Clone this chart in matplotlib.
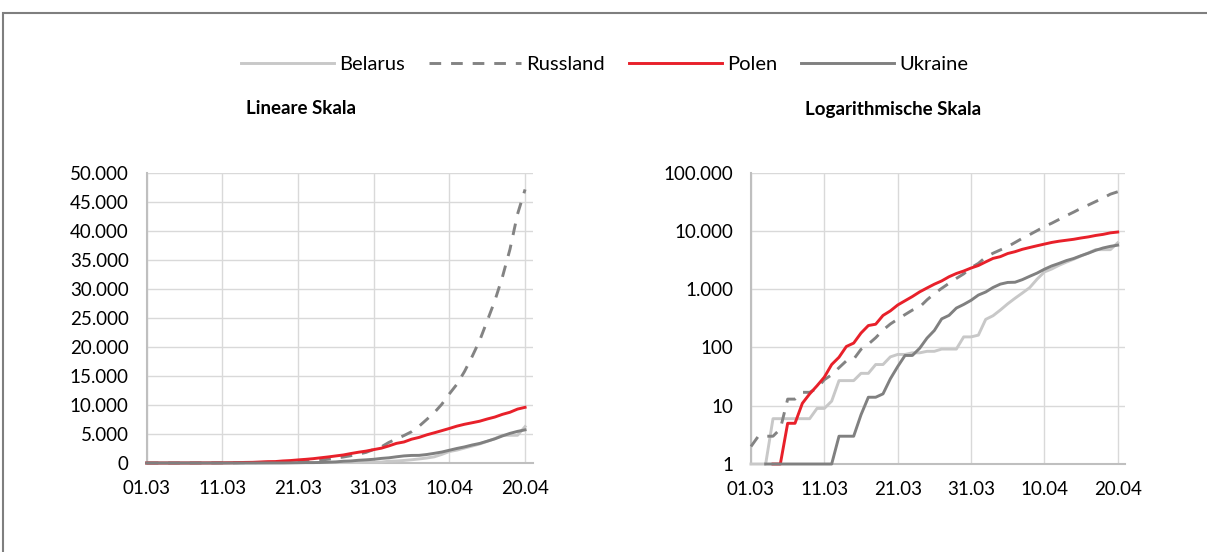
import numpy as np
import matplotlib
matplotlib.use("Agg")
import matplotlib.pyplot as plt
from matplotlib.ticker import FixedLocator, FuncFormatter, NullLocator
from matplotlib.patches import Rectangle

plt.rcParams['font.family'] = ['Lato', 'DejaVu Sans']

# Tage 01.03 - 20.04
tick_days = [0, 10, 20, 30, 40, 50]
tick_labels = ['01.03', '11.03', '21.03', '31.03', '10.04', '20.04']

belarus = [1, 1, 1, 6, 6, 6, 6, 6, 6, 9, 9, 12, 27, 27, 27, 36, 36, 51, 51, 69,
           76, 76, 81, 81, 86, 86, 94, 94, 94, 152, 152,
           163, 304, 351, 440, 562, 700, 861, 1066, 1486, 1981, 2226, 2578, 2919,
           3281, 3728, 4204, 4779, 4779, 4779, 6264]
russland = [2, 3, 3, 3, 4, 13, 13, 17, 17, 20, 28, 34, 45, 59, 63, 93, 114, 147,
            199, 253, 306, 367, 438, 495, 658, 840, 1036, 1264, 1534, 1836, 2337,
            2777, 3548, 4149, 4731, 5389, 6343, 7497, 8672, 10131, 11917, 13584,
            15770, 18328, 21102, 24490, 27938, 32008, 36793, 42853, 47121]
polen = [0, 0, 0, 1, 1, 5, 5, 11, 16, 22, 31, 51, 68, 104, 119, 177, 238, 251,
         355, 425, 536, 634, 749, 901, 1051, 1221, 1389, 1638, 1862, 2055, 2311,
         2554, 2946, 3383, 3627, 4102, 4413, 4848, 5205, 5575, 5955, 6356, 6674,
         6934, 7202, 7582, 7918, 8379, 8742, 9287, 9593]
ukraine = [0, 0, 1, 1, 1, 1, 1, 1, 1, 1, 1, 1, 3, 3, 3, 7, 14, 14, 16, 29, 47,
           73, 73, 97, 145, 196, 310, 356, 475, 548, 645,
           794, 897, 1072, 1225, 1308, 1319, 1462, 1668, 1892, 2203, 2511, 2777,
           3102, 3372, 3764, 4161, 4662, 5106, 5449, 5710]

series = [
    ('Belarus', belarus, dict(color='#c8c8c8', ls='-')),
    ('Russland', russland, dict(color='#838383', ls=(0, (4, 3.4)))),
    ('Polen', polen, dict(color='#e8202a', ls='-')),
    ('Ukraine', ukraine, dict(color='#808080', ls='-')),
]

days = np.arange(len(belarus))


def de_fmt(v, pos):
    return f'{int(round(v)):,}'.replace(',', '.')


fig = plt.figure(figsize=(12.07, 5.52), dpi=100)
ax1 = fig.add_axes([0.1215, 0.1612, 0.3198, 0.5259])
ax2 = fig.add_axes([0.6222, 0.1594, 0.3099, 0.5277])

handles = []
for name, vals, st in series:
    v = np.array(vals, dtype=float)
    h, = ax1.plot(days, v, lw=2.1, label=name, zorder=3, clip_on=False, **st)
    vlog = np.where(v >= 1, v, np.nan)
    ax2.plot(days, vlog, lw=2.1, zorder=3, clip_on=False, **st)
    handles.append(h)

ax1.set_ylim(0, 50000)
ax1.yaxis.set_major_locator(FixedLocator(np.arange(0, 50001, 5000)))

ax2.set_yscale('log')
ax2.set_ylim(1, 100000)
ax2.yaxis.set_major_locator(FixedLocator([1, 10, 100, 1000, 10000, 100000]))
ax2.yaxis.set_minor_locator(NullLocator())

for ax in (ax1, ax2):
    ax.set_xlim(0, 51)
    ax.xaxis.set_major_locator(FixedLocator(tick_days))
    ax.set_xticklabels(tick_labels)
    ax.yaxis.set_major_formatter(FuncFormatter(de_fmt))
    ax.grid(True, color='#d9d9d9', lw=1)
    ax.set_axisbelow(True)
    ax.tick_params(length=0, labelsize=13.5)
    ax.tick_params(axis='y', pad=13)
    ax.tick_params(axis='x', pad=12)
    for s in ('top', 'right'):
        ax.spines[s].set_visible(False)
    ax.spines['left'].set_color('#bfbfbf')
    ax.spines['left'].set_linewidth(1.5)
    ax.spines['bottom'].set_color('#bfbfbf')
    ax.spines['bottom'].set_linewidth(1.5)

fig.text(301 / 1207, 1 - 109 / 552, 'Lineare Skala', ha='center', va='center',
         fontsize=13.5, fontweight='bold')
fig.text(893 / 1207, 1 - 109 / 552, 'Logarithmische Skala', ha='center',
         va='center', fontsize=13.5, fontweight='bold')

fig.legend(handles=handles, loc='center', bbox_to_anchor=(0.5008, 0.8830),
           ncol=4, frameon=False, fontsize=14.5, handlelength=4.6,
           columnspacing=1.2, handletextpad=0.25)

fig.patches.append(Rectangle((3 / 1207, -0.05), 1.2, 1 - 13 / 552 + 0.05,
                             transform=fig.transFigure, fill=False,
                             edgecolor='#7f7f7f', lw=1.5))

fig.savefig('out.png', dpi=100)
